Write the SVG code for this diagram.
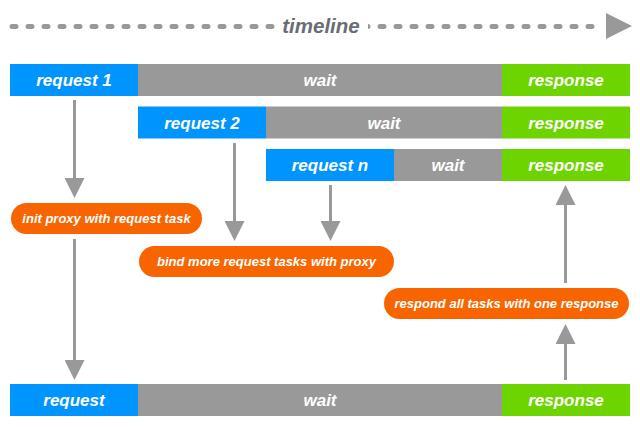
<svg xmlns="http://www.w3.org/2000/svg" width="640" height="427" viewBox="0 0 640 427">
  <style>
    .req { fill: #0094FF; }
    .wait { fill: #999999; }
    .resp { fill: #6DD400; }
    .pill { fill: #F86400; }
    .lbl { font-family: "Liberation Sans", Arial, sans-serif; font-weight: bold; font-style: italic; font-size: 17px; fill: #ffffff; text-anchor: middle; }
    .plbl { font-family: "Liberation Sans", Arial, sans-serif; font-weight: bold; font-style: italic; font-size: 13px; fill: #ffffff; text-anchor: middle; }
    .conn { stroke: #999999; stroke-width: 3; fill: none; marker-end: url(#ah); }
  </style>
  <defs>
    <marker id="ah" markerUnits="userSpaceOnUse" markerWidth="20" markerHeight="20" viewBox="0 0 20 20" refX="0" refY="10" orient="auto">
      <path d="M0,0 L20,10 L0,20 z" fill="#999999"/>
    </marker>
  </defs>
  <rect width="640" height="427" fill="#ffffff"/>

  <g id="timeline">
    <line x1="12" y1="26.5" x2="604" y2="26.5" stroke="#999999" stroke-width="5" stroke-linecap="round" stroke-dasharray="4 12"/>
    <path d="M606,13 L632,26 L606,39 z" fill="#999999"/>
    <rect x="276" y="12" width="92" height="28" fill="#ffffff"/>
    <text x="321" y="33" font-family="Liberation Sans, Arial, sans-serif" font-weight="bold" font-style="italic" font-size="20.5" fill="#6a6d73" text-anchor="middle">timeline</text>
  </g>

  <g id="row1">
    <rect class="req" x="10" y="64" width="128" height="32"/>
    <rect class="wait" x="138" y="64" width="364" height="32"/>
    <rect class="resp" x="502" y="64" width="128" height="32"/>
    <text class="lbl" x="74" y="86">request 1</text>
    <text class="lbl" x="320" y="86">wait</text>
    <text class="lbl" x="566" y="86">response</text>
  </g>

  <g id="row2">
    <rect class="req" x="138" y="106.5" width="128" height="32"/>
    <rect class="wait" x="266" y="106.5" width="236" height="32"/>
    <rect class="resp" x="502" y="106.5" width="128" height="32"/>
    <text class="lbl" x="202" y="128.5">request 2</text>
    <text class="lbl" x="384" y="128.5">wait</text>
    <text class="lbl" x="566" y="128.5">response</text>
  </g>

  <g id="row3">
    <rect class="req" x="266" y="149" width="128" height="32"/>
    <rect class="wait" x="394" y="149" width="108" height="32"/>
    <rect class="resp" x="502" y="149" width="128" height="32"/>
    <text class="lbl" x="330" y="171">request n</text>
    <text class="lbl" x="448" y="171">wait</text>
    <text class="lbl" x="566" y="171">response</text>
  </g>

  <g id="row4">
    <rect class="req" x="10" y="384" width="128" height="32"/>
    <rect class="wait" x="138" y="384" width="364" height="32"/>
    <rect class="resp" x="502" y="384" width="128" height="32"/>
    <text class="lbl" x="74" y="406">request</text>
    <text class="lbl" x="320" y="406">wait</text>
    <text class="lbl" x="566" y="406">response</text>
  </g>

  <g id="pill1">
    <rect class="pill" x="11" y="203" width="191" height="31" rx="15.5"/>
    <text class="plbl" x="106.5" y="223">init proxy with request task</text>
  </g>

  <g id="pill2">
    <rect class="pill" x="139" y="246" width="255" height="31" rx="15.5"/>
    <text class="plbl" x="266.5" y="266">bind more request tasks with proxy</text>
  </g>

  <g id="pill3">
    <rect class="pill" x="384" y="288" width="245" height="31" rx="15.5"/>
    <text class="plbl" x="506.5" y="308">respond all tasks with one response</text>
  </g>

  <g id="connectors">
    <line class="conn" x1="74.5" y1="100" x2="74.5" y2="178"/>
    <line class="conn" x1="74.5" y1="239" x2="74.5" y2="360"/>
    <line class="conn" x1="234.5" y1="143" x2="234.5" y2="221"/>
    <line class="conn" x1="330.5" y1="185" x2="330.5" y2="221"/>
    <line class="conn" x1="565.5" y1="283" x2="565.5" y2="205"/>
    <line class="conn" x1="565.5" y1="380" x2="565.5" y2="344"/>
  </g>
</svg>
